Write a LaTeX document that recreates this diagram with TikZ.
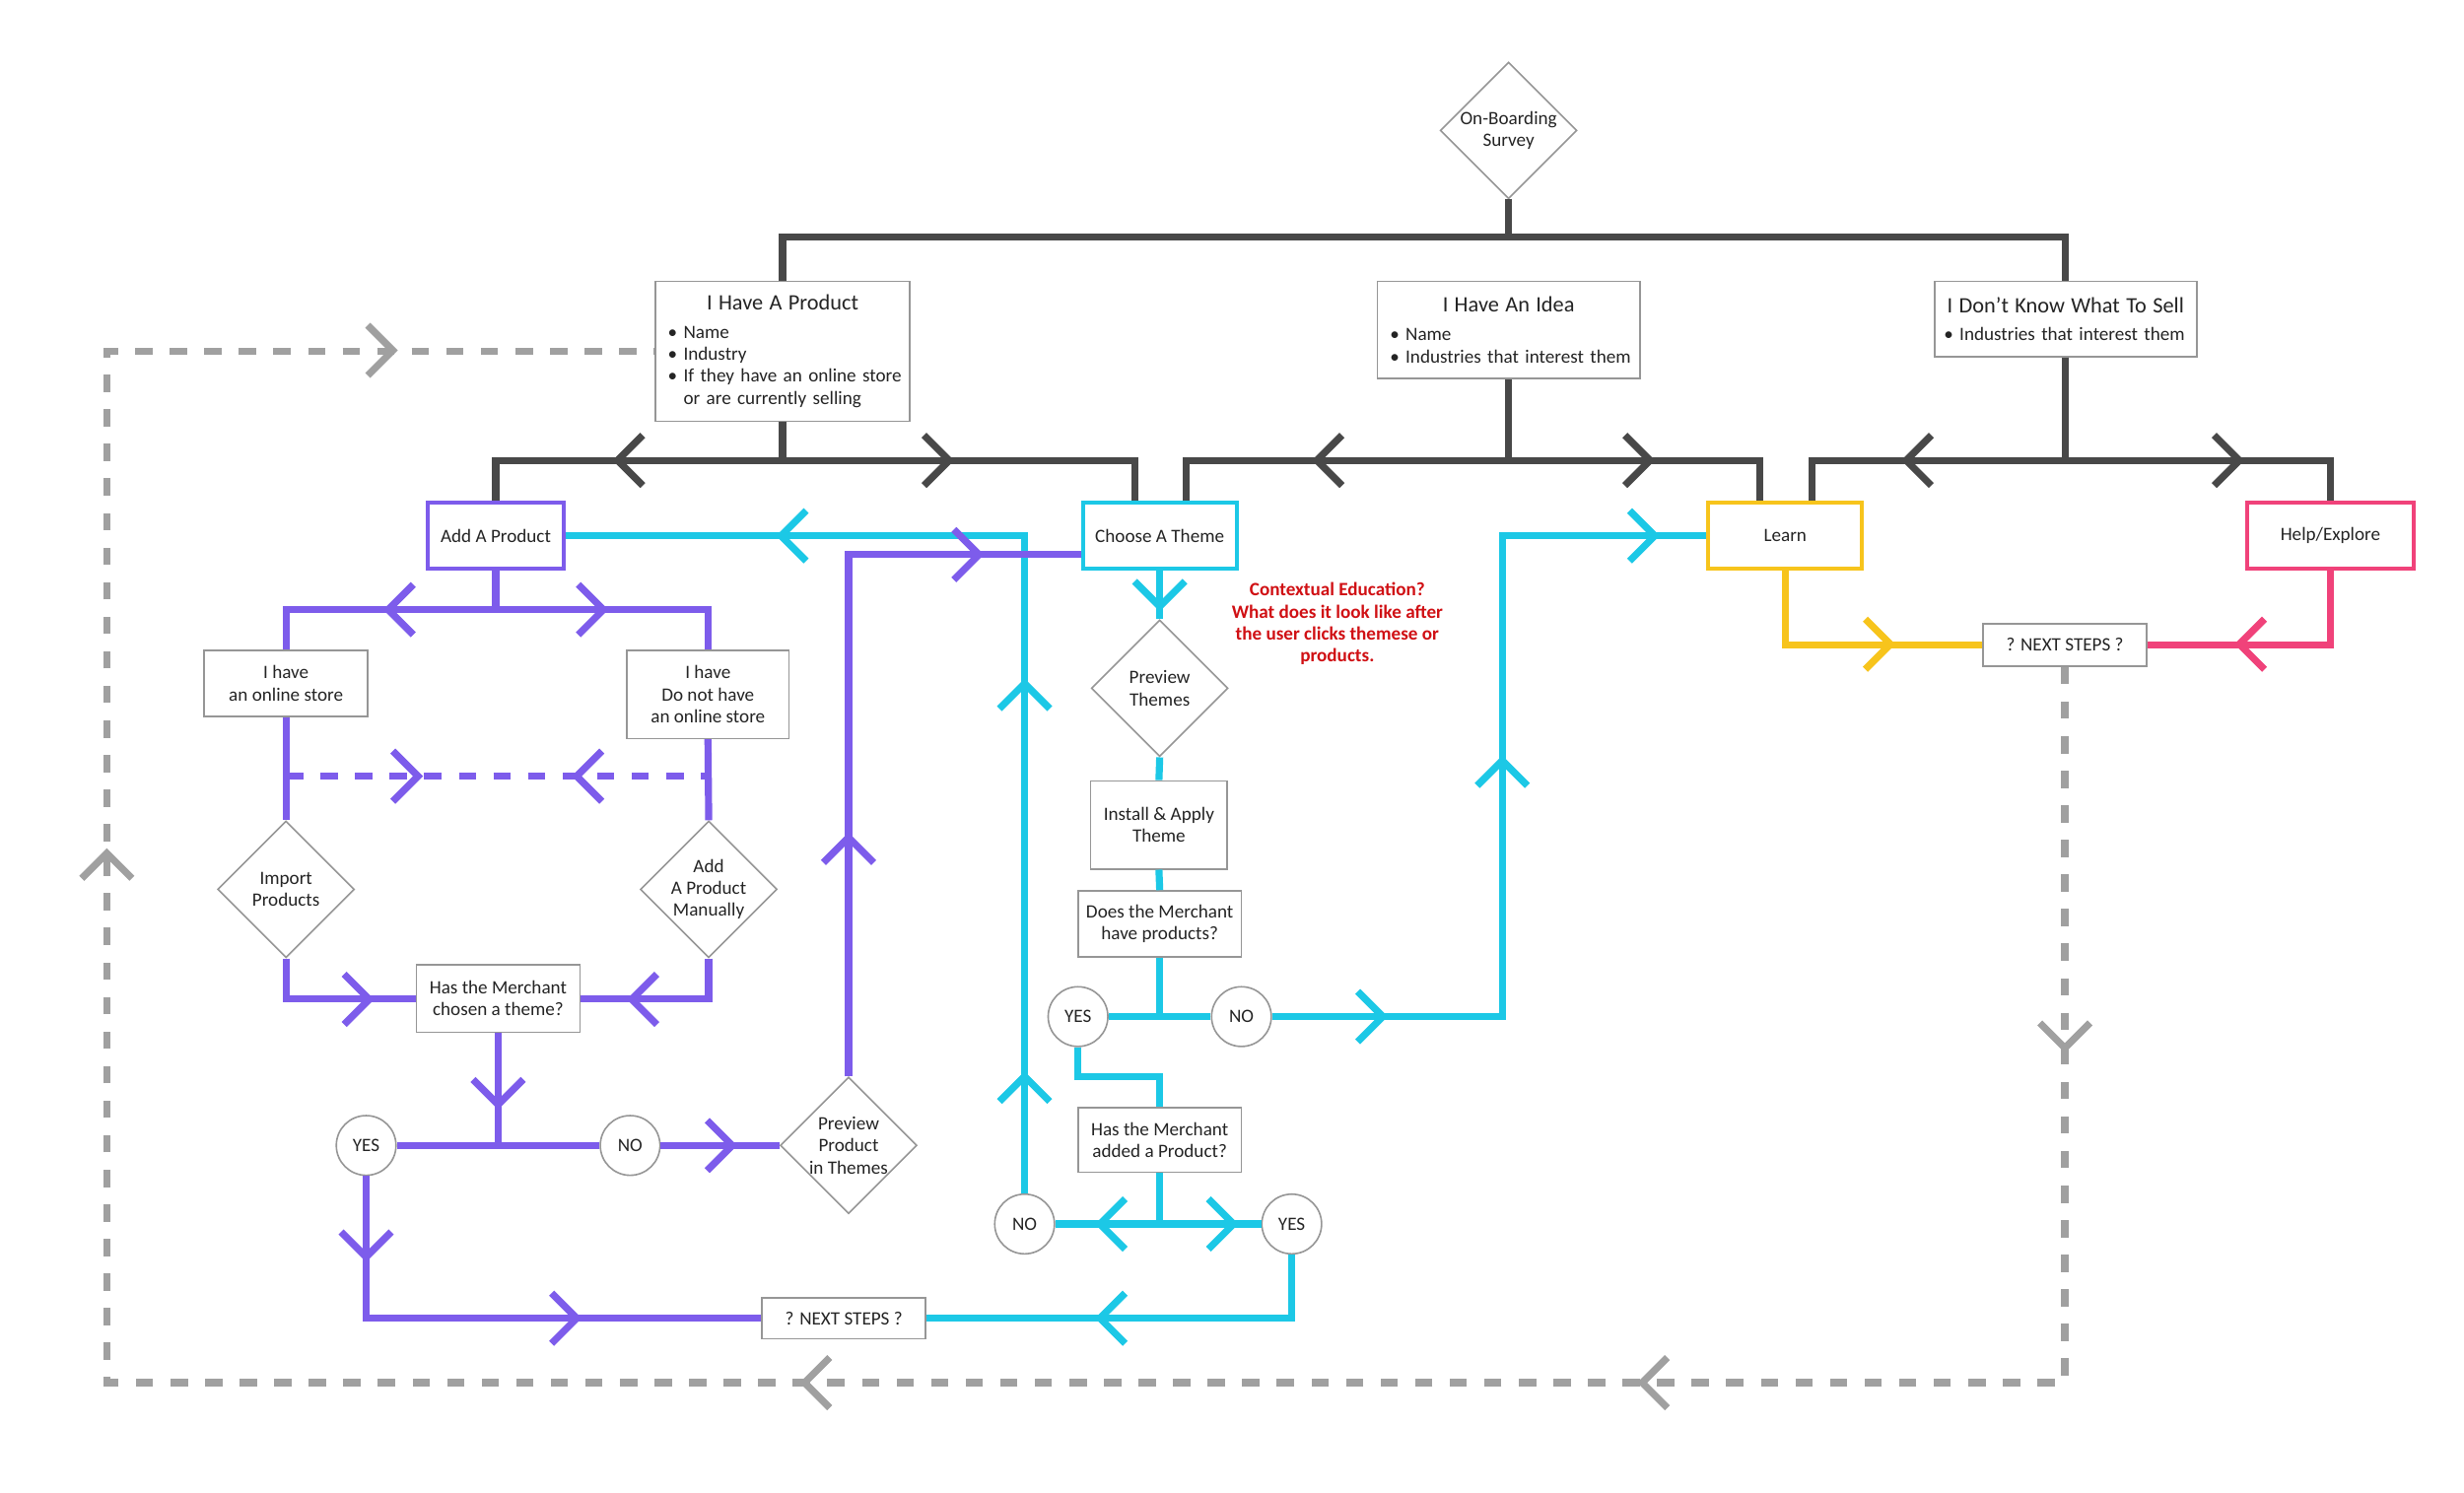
\documentclass[tikz,border=0pt]{standalone}
\usepackage{fontspec}
\setmainfont{Carlito}
\usetikzlibrary{shapes.geometric}
\definecolor{dk}{RGB}{72,72,72}
\definecolor{purp}{RGB}{125,92,235}
\definecolor{cyanl}{RGB}{28,200,230}
\definecolor{yell}{RGB}{247,196,28}
\definecolor{pinkl}{RGB}{240,66,122}
\definecolor{dgray}{RGB}{160,160,160}
\definecolor{boxgray}{RGB}{150,150,150}
\definecolor{txt}{RGB}{36,36,36}
\definecolor{redn}{RGB}{208,16,20}
\newcommand\myTitle{\fontsize{14}{17}\selectfont}
\newcommand\mySmall{\fontsize{12}{14}\selectfont}
\tikzset{
  conn/.style={line width=4.5pt,line join=miter,line cap=butt},
  gbox/.style={rectangle,draw=boxgray,line width=1pt,fill=white,align=center,inner xsep=8pt,inner ysep=0pt,text=txt,font=\mySmall},
  cbox/.style={rectangle,draw=#1,line width=2.5pt,fill=white,align=center,inner sep=0pt,text=txt,font=\mySmall,minimum height=42pt},
  dia/.style={diamond,draw=boxgray,line width=1pt,fill=white,minimum width=87pt,minimum height=87pt,inner sep=0pt,align=center,text=txt,font=\mySmall},
  yn/.style={circle,draw=boxgray,line width=1pt,fill=white,minimum size=38pt,inner sep=0pt,text=txt,font=\mySmall},
  chevR/.pic={\draw[line width=4.5pt,line cap=butt,line join=miter] (-16,-16) -- (0,0) -- (-16,16);},
  chevL/.pic={\draw[line width=4.5pt,line cap=butt,line join=miter] (16,-16) -- (0,0) -- (16,16);},
  chevU/.pic={\draw[line width=4.5pt,line cap=butt,line join=miter] (-16,16) -- (0,0) -- (16,16);},
  chevD/.pic={\draw[line width=4.5pt,line cap=butt,line join=miter] (-16,-16) -- (0,0) -- (16,-16);},
  gdash/.style={conn,dgray,dash pattern=on 11pt off 11pt}
}
\begin{document}
\begin{tikzpicture}[x=1pt,y=-1pt]
\useasboundingbox[fill=white] (0,0) rectangle (1568,950);

% ---------- nodes ----------
\node[dia] (survey) at (960,83) {On-Boarding\\Survey};
\node[gbox,minimum width=162pt,minimum height=89pt,text width=156pt,inner xsep=3pt,align=left] (prod) at (498,223.5)
  {\makebox[156pt][c]{\myTitle I Have A Product}\\[4pt]\hspace*{5pt}• Name\\\hspace*{5pt}• Industry\\\hspace*{5pt}• If they have an online store\\\hspace*{5pt}\hphantom{• }or are currently selling};
\node[gbox,minimum width=167pt,minimum height=62pt,text width=161pt,inner xsep=3pt,align=left] (idea) at (960,210)
  {\makebox[161pt][c]{\myTitle I Have An Idea}\\[4pt]\hspace*{5pt}• Name\\\hspace*{5pt}• Industries that interest them};
\node[gbox,minimum width=167pt,minimum height=48pt,text width=161pt,inner xsep=3pt,align=left] (dont) at (1314.5,203)
  {\makebox[161pt][c]{\myTitle I Don’t Know What To Sell}\\[4pt]\hspace*{3pt}• Industries that interest them};

\node[cbox=purp,minimum width=87pt] (addp) at (315.5,341) {Add A Product};
\node[cbox=cyanl,minimum width=98pt] (theme) at (738,341) {Choose A Theme};
\node[cbox=yell,minimum width=98pt] (learn) at (1136,341) {Learn};
\node[cbox=pinkl,minimum width=106pt] (help) at (1483,341) {Help/Explore};

\node[gbox,minimum width=104pt,minimum height=42pt] (online) at (182,435) {I have\\an online store};
\node[gbox,minimum width=103pt,minimum height=56pt] (noonline) at (450.5,442) {I have\\Do not have\\an online store};
\node[dia] (import) at (182,566) {Import\\Products};
\node[dia] (manual) at (451,566) {Add\\A Product\\Manually};
\node[gbox,minimum width=104pt,minimum height=43pt] (chosen) at (317,635.5) {Has the Merchant\\chosen a theme?};
\node[yn] (yes1) at (233,729) {YES};
\node[yn] (no1) at (401,729) {NO};
\node[dia] (ppt) at (540,729) {Preview\\Product\\in Themes};
\node[gbox,minimum width=104pt,minimum height=26pt] (next1) at (537,839) {? NEXT STEPS ?};

\node[dia] (pthemes) at (738,438) {Preview\\Themes};
\node[gbox,minimum width=87pt,minimum height=56pt,inner xsep=2pt] (install) at (737.5,525) {Install \& Apply\\Theme};
\node[gbox,minimum width=104pt,minimum height=42pt,inner xsep=2pt] (doesm) at (738,588) {Does the Merchant\\have products?};
\node[yn] (yes2) at (686,647) {YES};
\node[yn] (no2) at (790,647) {NO};
\node[gbox,minimum width=104pt,minimum height=41pt,inner xsep=2pt] (added) at (738,725.5) {Has the Merchant\\added a Product?};
\node[yn] (no3) at (652,779) {NO};
\node[yn] (yes3) at (822,779) {YES};

\node[text=redn,font=\mySmall\bfseries,align=center] (note) at (851,397)
  {Contextual Education?\\What does it look like after\\the user clicks themese or\\products.};

\node[gbox,minimum width=104pt,minimum height=27pt] (next2) at (1314,410.5) {? NEXT STEPS ?};

% ---------- coordinates ----------
\coordinate (top) at (960,151);
\coordinate (b1) at (498,293);
\coordinate (b2) at (960,293);
\coordinate (b3) at (1314.5,293);
\coordinate (p1) at (315.5,388);
\coordinate (d1) at (182,494);
\coordinate (d2) at (451,494);
\coordinate (p2) at (317,729);
\coordinate (c1) at (738,647);
\coordinate (c2) at (956,341);
\coordinate (c3) at (738,685);
\coordinate (c4) at (738,779);
\coordinate (g1) at (68,880);

% ---------- dark connectors ----------
\begin{scope}[conn,dk]
\draw (prod.north) |- (top) -| (dont.north);
\draw (survey.south) -- (top);
\draw (prod.south) -- (b1);
\draw (addp.north) |- (b1) -| ([xshift=-16pt]theme.north);
\draw (idea.south) -- (b2);
\draw ([xshift=17pt]theme.north) |- (b2) -| ([xshift=-16pt]learn.north);
\draw (dont.south) -- (b3);
\draw ([xshift=17pt]learn.north) |- (b3) -| (help.north);
\end{scope}
\pic[dk] at (393,293) {chevL};
\pic[dk] at (604,293) {chevR};
\pic[dk] at (838,293) {chevL};
\pic[dk] at (1050,293) {chevR};
\pic[dk] at (1213,293) {chevL};
\pic[dk] at (1425,293) {chevR};

% ---------- cyan connectors ----------
\begin{scope}[conn,cyanl]
\draw (theme.south) -- (pthemes.north);
\draw (pthemes.south) -- (install.north);
\draw (install.south) -- (doesm.north);
\draw (doesm.south) -- (c1);
\draw (yes2) -- (no2);
\draw (no2.east) -| (c2) -- (learn.west);
\draw (yes2.south) |- (c3) -- (added.north);
\draw (added.south) -- (c4);
\draw (no3) -- (yes3);
\draw (no3.north) |- (addp.east);
\draw (yes3.south) |- (next1.east);
\end{scope}
\pic[cyanl] at (738,386) {chevD};
\pic[cyanl] at (880,647) {chevR};
\pic[cyanl] at (956,484) {chevU};
\pic[cyanl] at (1053,341) {chevR};
\pic[cyanl] at (700,779) {chevL};
\pic[cyanl] at (785,779) {chevR};
\pic[cyanl] at (652,435) {chevU};
\pic[cyanl] at (652,685) {chevU};
\pic[cyanl] at (497,341) {chevL};
\pic[cyanl] at (700,839) {chevL};

% ---------- purple connectors ----------
\begin{scope}[conn,purp]
\draw (addp.south) -- (p1);
\draw (online.north) |- (p1) -| (noonline.north);
\draw (online.south) -- (import.north);
\draw (noonline.south) -- (manual.north);
\draw[dash pattern=on 11pt off 11pt] (d1) -- (d2);
\draw (import.south) |- (chosen.west);
\draw (manual.south) |- (chosen.east);
\draw (chosen.south) -- (p2);
\draw (yes1) -- (no1);
\draw (no1) -- (ppt.west);
\draw (ppt.north) |- ([yshift=-12pt]theme.west);
\draw (yes1.south) |- (next1.west);
\end{scope}
\pic[purp] at (247,388) {chevL};
\pic[purp] at (384,388) {chevR};
\pic[purp] at (266,494) {chevR};
\pic[purp] at (367,494) {chevL};
\pic[purp] at (235,636) {chevR};
\pic[purp] at (402,636) {chevL};
\pic[purp] at (317,703) {chevD};
\pic[purp] at (466,729) {chevR};
\pic[purp] at (540,533) {chevU};
\pic[purp] at (623,353) {chevR};
\pic[purp] at (233,800) {chevD};
\pic[purp] at (367,839) {chevR};

% ---------- yellow / pink ----------
\draw[conn,yell] (learn.south) |- (next2.west);
\pic[yell] at (1203,410) {chevR};
\draw[conn,pinkl] (help.south) |- (next2.east);
\pic[pinkl] at (1425,410) {chevL};

% ---------- gray dashed loop ----------
\draw[gdash] (next2.south) |- (g1) |- (prod.west);
\pic[dgray] at (1314,667) {chevD};
\pic[dgray] at (1045,880) {chevL};
\pic[dgray] at (512,880) {chevL};
\pic[dgray] at (68,543) {chevU};
\pic[dgray] at (250,223) {chevR};
\end{tikzpicture}
\end{document}
